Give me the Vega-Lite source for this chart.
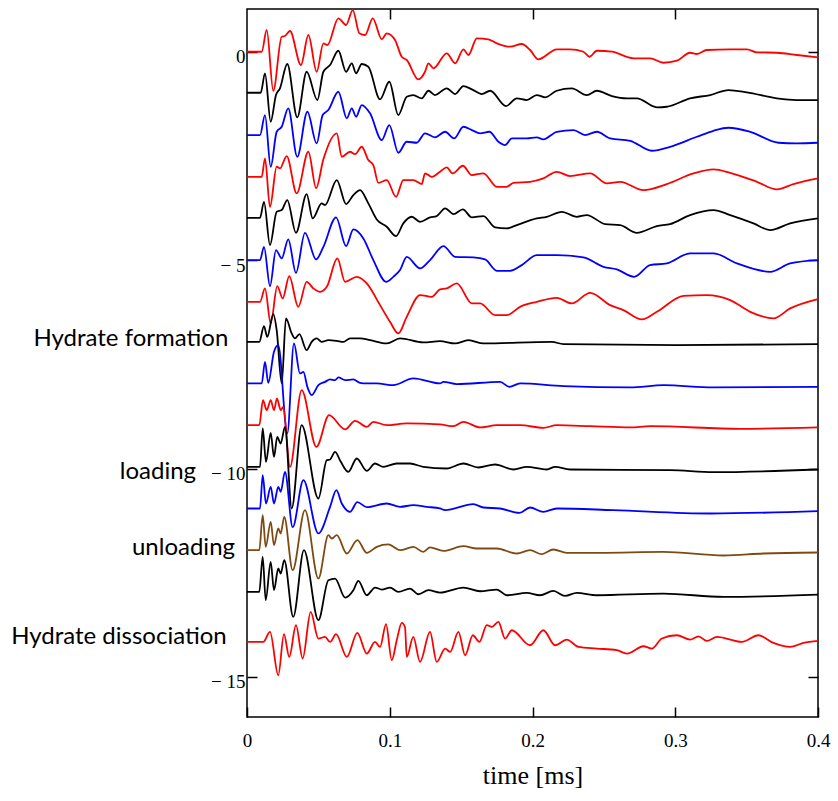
{
"$schema":"https://vega.github.io/schema/vega-lite/v6.json",
"width":571,"height":708,
"autosize":{"type":"none"},
"padding":{"left":247,"top":9,"right":20,"bottom":84},
"background":"white",
"config":{"view":{"stroke":"#000000","strokeWidth":1.5},"axis":{"grid":false,"domain":false}},
"datasets":{
"w":[
{"s":"a","t":0,"y":0},{"s":"a","t":0.0103,"y":0},{"s":"a","t":0.0138,"y":0.521},{"s":"a","t":0.0184,"y":-0.936},{"s":"a","t":0.0243,"y":0.36},{"s":"a","t":0.0266,"y":0.377},{"s":"a","t":0.0301,"y":0.497},{"s":"a","t":0.0378,"y":-0.319},{"s":"a","t":0.043,"y":0.401},{"s":"a","t":0.0488,"y":-0.48},{"s":"a","t":0.0535,"y":0.202},{"s":"a","t":0.0563,"y":0.161},{"s":"a","t":0.064,"y":0.802},{"s":"a","t":0.0694,"y":0.641},{"s":"a","t":0.0741,"y":1.0},{"s":"a","t":0.0787,"y":0.442},{"s":"a","t":0.0827,"y":0.401},{"s":"a","t":0.0881,"y":0.802},{"s":"a","t":0.0944,"y":0.298},{"s":"a","t":0.0979,"y":0.442},{"s":"a","t":0.1037,"y":0.281},{"s":"a","t":0.1084,"y":-0.12},{"s":"a","t":0.1119,"y":-0.199},{"s":"a","t":0.12,"y":-0.662},{"s":"a","t":0.1247,"y":-0.48},{"s":"a","t":0.1271,"y":-0.278},{"s":"a","t":0.1306,"y":-0.398},{"s":"a","t":0.1399,"y":-0.038},{"s":"a","t":0.1458,"y":-0.278},{"s":"a","t":0.1516,"y":0.058},{"s":"a","t":0.1551,"y":-0.079},{"s":"a","t":0.161,"y":0.322},{"s":"a","t":0.1691,"y":0.298},{"s":"a","t":0.175,"y":0.202},{"s":"a","t":0.1843,"y":0.12},{"s":"a","t":0.1925,"y":0.185},{"s":"a","t":0.1983,"y":0.041},{"s":"a","t":0.2041,"y":-0.182},{"s":"a","t":0.217,"y":0.058},{"s":"a","t":0.2263,"y":0.058},{"s":"a","t":0.2357,"y":0},{"s":"a","t":0.2399,"y":-0.12},{"s":"a","t":0.2451,"y":0.024},{"s":"a","t":0.2556,"y":0},{"s":"a","t":0.2707,"y":-0.158},{"s":"a","t":0.2824,"y":-0.158},{"s":"a","t":0.2917,"y":-0.264},{"s":"a","t":0.3011,"y":-0.216},{"s":"a","t":0.3104,"y":-0.024},{"s":"a","t":0.3151,"y":-0.055},{"s":"a","t":0.3221,"y":0.041},{"s":"a","t":0.3385,"y":0.058},{"s":"a","t":0.3502,"y":0.058},{"s":"a","t":0.3572,"y":-0.014},{"s":"a","t":0.3712,"y":-0.024},{"s":"a","t":0.3852,"y":-0.079},{"s":"a","t":0.4,"y":-0.134},
{"s":"b","t":0,"y":-0.984},{"s":"b","t":0.0096,"y":-0.984},{"s":"b","t":0.0126,"y":-0.518},{"s":"b","t":0.0166,"y":-1.68},{"s":"b","t":0.0203,"y":-1.039},{"s":"b","t":0.0231,"y":-0.878},{"s":"b","t":0.0282,"y":-0.295},{"s":"b","t":0.0352,"y":-1.574},{"s":"b","t":0.0418,"y":-0.48},{"s":"b","t":0.0493,"y":-1.159},{"s":"b","t":0.0535,"y":-0.48},{"s":"b","t":0.0582,"y":-0.319},{"s":"b","t":0.064,"y":0.024},{"s":"b","t":0.0694,"y":-0.48},{"s":"b","t":0.0734,"y":-0.278},{"s":"b","t":0.0764,"y":-0.518},{"s":"b","t":0.0804,"y":-0.295},{"s":"b","t":0.085,"y":-0.36},{"s":"b","t":0.0932,"y":-1.142},{"s":"b","t":0.0997,"y":-0.72},{"s":"b","t":0.106,"y":-1.519},{"s":"b","t":0.1119,"y":-1.08},{"s":"b","t":0.1165,"y":-1.039},{"s":"b","t":0.1224,"y":-1.118},{"s":"b","t":0.1271,"y":-0.936},{"s":"b","t":0.1317,"y":-1.039},{"s":"b","t":0.1399,"y":-0.878},{"s":"b","t":0.1458,"y":-1.015},{"s":"b","t":0.1516,"y":-0.823},{"s":"b","t":0.1575,"y":-0.902},{"s":"b","t":0.1645,"y":-1.015},{"s":"b","t":0.1703,"y":-0.936},{"s":"b","t":0.1815,"y":-1.303},{"s":"b","t":0.189,"y":-1.118},{"s":"b","t":0.196,"y":-1.159},{"s":"b","t":0.203,"y":-1.039},{"s":"b","t":0.2088,"y":-1.094},{"s":"b","t":0.217,"y":-0.936},{"s":"b","t":0.2275,"y":-0.878},{"s":"b","t":0.238,"y":-1.039},{"s":"b","t":0.2451,"y":-0.936},{"s":"b","t":0.2556,"y":-1.063},{"s":"b","t":0.2661,"y":-1.118},{"s":"b","t":0.2731,"y":-1.118},{"s":"b","t":0.2871,"y":-1.334},{"s":"b","t":0.2941,"y":-1.32},{"s":"b","t":0.3104,"y":-1.118},{"s":"b","t":0.3245,"y":-1.039},{"s":"b","t":0.3373,"y":-0.919},{"s":"b","t":0.3502,"y":-0.974},{"s":"b","t":0.3712,"y":-1.118},{"s":"b","t":0.3852,"y":-1.159},{"s":"b","t":0.4,"y":-1.159},
{"s":"c","t":0,"y":-2.0},{"s":"c","t":0.0091,"y":-2.0},{"s":"c","t":0.0126,"y":-1.519},{"s":"c","t":0.0166,"y":-2.76},{"s":"c","t":0.0208,"y":-1.92},{"s":"c","t":0.0243,"y":-1.8},{"s":"c","t":0.0289,"y":-1.358},{"s":"c","t":0.0352,"y":-2.52},{"s":"c","t":0.0423,"y":-1.44},{"s":"c","t":0.0488,"y":-2.199},{"s":"c","t":0.053,"y":-1.519},{"s":"c","t":0.057,"y":-1.399},{"s":"c","t":0.064,"y":-0.96},{"s":"c","t":0.0699,"y":-1.598},{"s":"c","t":0.0734,"y":-1.358},{"s":"c","t":0.0764,"y":-1.56},{"s":"c","t":0.0804,"y":-1.279},{"s":"c","t":0.0862,"y":-1.478},{"s":"c","t":0.0944,"y":-2.12},{"s":"c","t":0.0997,"y":-1.759},{"s":"c","t":0.106,"y":-2.424},{"s":"c","t":0.1119,"y":-2.16},{"s":"c","t":0.1189,"y":-2.184},{"s":"c","t":0.1247,"y":-1.958},{"s":"c","t":0.1317,"y":-2.054},{"s":"c","t":0.1388,"y":-1.92},{"s":"c","t":0.1451,"y":-2.078},{"s":"c","t":0.1516,"y":-1.8},{"s":"c","t":0.1575,"y":-1.879},{"s":"c","t":0.1633,"y":-1.958},{"s":"c","t":0.1698,"y":-1.92},{"s":"c","t":0.1761,"y":-2.16},{"s":"c","t":0.1808,"y":-2.239},{"s":"c","t":0.1855,"y":-2.078},{"s":"c","t":0.196,"y":-2.078},{"s":"c","t":0.203,"y":-2.054},{"s":"c","t":0.2076,"y":-2.102},{"s":"c","t":0.217,"y":-1.92},{"s":"c","t":0.2287,"y":-1.879},{"s":"c","t":0.2369,"y":-1.999},{"s":"c","t":0.2451,"y":-1.92},{"s":"c","t":0.2544,"y":-2.078},{"s":"c","t":0.2684,"y":-2.136},{"s":"c","t":0.2836,"y":-2.376},{"s":"c","t":0.2964,"y":-2.28},{"s":"c","t":0.3151,"y":-2.04},{"s":"c","t":0.3268,"y":-1.896},{"s":"c","t":0.3373,"y":-1.824},{"s":"c","t":0.3525,"y":-1.92},{"s":"c","t":0.3723,"y":-2.184},{"s":"c","t":0.3852,"y":-2.198},{"s":"c","t":0.4,"y":-2.184},
{"s":"d","t":0,"y":-3.0},{"s":"d","t":0.0103,"y":-3.0},{"s":"d","t":0.0126,"y":-2.558},{"s":"d","t":0.0161,"y":-3.72},{"s":"d","t":0.0208,"y":-2.76},{"s":"d","t":0.0231,"y":-2.799},{"s":"d","t":0.0278,"y":-2.503},{"s":"d","t":0.0348,"y":-3.398},{"s":"d","t":0.043,"y":-2.4},{"s":"d","t":0.0484,"y":-3.271},{"s":"d","t":0.0535,"y":-2.582},{"s":"d","t":0.0629,"y":-1.958},{"s":"d","t":0.0664,"y":-2.52},{"s":"d","t":0.0722,"y":-2.4},{"s":"d","t":0.0757,"y":-2.455},{"s":"d","t":0.0804,"y":-2.28},{"s":"d","t":0.085,"y":-2.599},{"s":"d","t":0.0885,"y":-2.719},{"s":"d","t":0.092,"y":-3.144},{"s":"d","t":0.0979,"y":-3.08},{"s":"d","t":0.1044,"y":-3.48},{"s":"d","t":0.1095,"y":-3.08},{"s":"d","t":0.1165,"y":-3.08},{"s":"d","t":0.1224,"y":-3.175},{"s":"d","t":0.1247,"y":-2.919},{"s":"d","t":0.1294,"y":-3.0},{"s":"d","t":0.1352,"y":-2.88},{"s":"d","t":0.1399,"y":-2.774},{"s":"d","t":0.1441,"y":-2.919},{"s":"d","t":0.1512,"y":-2.736},{"s":"d","t":0.1575,"y":-2.959},{"s":"d","t":0.1656,"y":-2.919},{"s":"d","t":0.175,"y":-3.24},{"s":"d","t":0.182,"y":-3.24},{"s":"d","t":0.1866,"y":-3.144},{"s":"d","t":0.1983,"y":-3.12},{"s":"d","t":0.2076,"y":-3.039},{"s":"d","t":0.217,"y":-2.88},{"s":"d","t":0.2263,"y":-2.983},{"s":"d","t":0.2404,"y":-2.919},{"s":"d","t":0.2521,"y":-3.158},{"s":"d","t":0.2614,"y":-3.12},{"s":"d","t":0.2777,"y":-3.319},{"s":"d","t":0.2941,"y":-3.175},{"s":"d","t":0.3128,"y":-2.919},{"s":"d","t":0.3268,"y":-2.822},{"s":"d","t":0.3385,"y":-2.904},{"s":"d","t":0.3572,"y":-3.12},{"s":"d","t":0.3712,"y":-3.302},{"s":"d","t":0.3828,"y":-3.175},{"s":"d","t":0.4,"y":-3.039},
{"s":"e","t":0,"y":-3.984},{"s":"e","t":0.0091,"y":-3.984},{"s":"e","t":0.0119,"y":-3.6},{"s":"e","t":0.0161,"y":-4.639},{"s":"e","t":0.0208,"y":-3.84},{"s":"e","t":0.0243,"y":-3.799},{"s":"e","t":0.0282,"y":-3.559},{"s":"e","t":0.0343,"y":-4.344},{"s":"e","t":0.0418,"y":-3.415},{"s":"e","t":0.046,"y":-3.999},{"s":"e","t":0.0523,"y":-3.638},{"s":"e","t":0.0547,"y":-3.679},{"s":"e","t":0.0629,"y":-3.079},{"s":"e","t":0.0694,"y":-3.655},{"s":"e","t":0.0745,"y":-3.439},{"s":"e","t":0.0792,"y":-3.319},{"s":"e","t":0.085,"y":-3.638},{"s":"e","t":0.0909,"y":-4.023},{"s":"e","t":0.0979,"y":-4.2},{"s":"e","t":0.1044,"y":-4.423},{"s":"e","t":0.1095,"y":-4.118},{"s":"e","t":0.1154,"y":-3.959},{"s":"e","t":0.1212,"y":-4.08},{"s":"e","t":0.1282,"y":-3.974},{"s":"e","t":0.1329,"y":-3.943},{"s":"e","t":0.1388,"y":-3.758},{"s":"e","t":0.1446,"y":-3.895},{"s":"e","t":0.1512,"y":-3.782},{"s":"e","t":0.1575,"y":-3.974},{"s":"e","t":0.1656,"y":-3.943},{"s":"e","t":0.1738,"y":-4.214},{"s":"e","t":0.182,"y":-4.238},{"s":"e","t":0.189,"y":-4.159},{"s":"e","t":0.203,"y":-3.998},{"s":"e","t":0.21,"y":-3.96},{"s":"e","t":0.2205,"y":-3.84},{"s":"e","t":0.231,"y":-3.96},{"s":"e","t":0.238,"y":-3.919},{"s":"e","t":0.2509,"y":-4.135},{"s":"e","t":0.2614,"y":-4.159},{"s":"e","t":0.2731,"y":-4.344},{"s":"e","t":0.2871,"y":-4.183},{"s":"e","t":0.2964,"y":-4.135},{"s":"e","t":0.3104,"y":-3.919},{"s":"e","t":0.3268,"y":-3.799},{"s":"e","t":0.3385,"y":-3.919},{"s":"e","t":0.3548,"y":-4.118},{"s":"e","t":0.3665,"y":-4.279},{"s":"e","t":0.3805,"y":-4.118},{"s":"e","t":0.4,"y":-3.998},
{"s":"f","t":0,"y":-5.0},{"s":"f","t":0.0091,"y":-5.0},{"s":"f","t":0.0119,"y":-4.68},{"s":"f","t":0.0161,"y":-5.623},{"s":"f","t":0.0203,"y":-4.759},{"s":"f","t":0.0243,"y":-4.958},{"s":"f","t":0.0289,"y":-4.502},{"s":"f","t":0.0343,"y":-5.304},{"s":"f","t":0.0406,"y":-4.344},{"s":"f","t":0.0484,"y":-4.982},{"s":"f","t":0.0535,"y":-4.68},{"s":"f","t":0.0624,"y":-3.974},{"s":"f","t":0.0694,"y":-4.663},{"s":"f","t":0.0745,"y":-4.262},{"s":"f","t":0.0815,"y":-4.478},{"s":"f","t":0.0885,"y":-4.999},{"s":"f","t":0.0974,"y":-5.52},{"s":"f","t":0.1025,"y":-5.4},{"s":"f","t":0.1072,"y":-5.239},{"s":"f","t":0.1119,"y":-4.92},{"s":"f","t":0.1212,"y":-5.198},{"s":"f","t":0.1282,"y":-4.999},{"s":"f","t":0.1376,"y":-4.663},{"s":"f","t":0.1458,"y":-4.92},{"s":"f","t":0.1586,"y":-4.934},{"s":"f","t":0.1668,"y":-4.982},{"s":"f","t":0.175,"y":-5.256},{"s":"f","t":0.1843,"y":-5.256},{"s":"f","t":0.1925,"y":-5.119},{"s":"f","t":0.203,"y":-4.879},{"s":"f","t":0.217,"y":-4.879},{"s":"f","t":0.2357,"y":-4.934},{"s":"f","t":0.2497,"y":-5.16},{"s":"f","t":0.2591,"y":-5.222},{"s":"f","t":0.2712,"y":-5.4},{"s":"f","t":0.2824,"y":-5.119},{"s":"f","t":0.2941,"y":-5.078},{"s":"f","t":0.3104,"y":-4.838},{"s":"f","t":0.3268,"y":-4.838},{"s":"f","t":0.3432,"y":-5.078},{"s":"f","t":0.3665,"y":-5.28},{"s":"f","t":0.3805,"y":-5.078},{"s":"f","t":0.4,"y":-4.999},
{"s":"g","t":0,"y":-6.0},{"s":"g","t":0.0091,"y":-6.0},{"s":"g","t":0.0126,"y":-5.678},{"s":"g","t":0.0166,"y":-6.518},{"s":"g","t":0.0212,"y":-5.623},{"s":"g","t":0.025,"y":-5.918},{"s":"g","t":0.0296,"y":-5.383},{"s":"g","t":0.0359,"y":-6.12},{"s":"g","t":0.0418,"y":-5.52},{"s":"g","t":0.0465,"y":-5.678},{"s":"g","t":0.0512,"y":-5.76},{"s":"g","t":0.0559,"y":-5.64},{"s":"g","t":0.0633,"y":-4.959},{"s":"g","t":0.0687,"y":-5.52},{"s":"g","t":0.0769,"y":-5.4},{"s":"g","t":0.0839,"y":-5.558},{"s":"g","t":0.0932,"y":-6.079},{"s":"g","t":0.1002,"y":-6.48},{"s":"g","t":0.106,"y":-6.758},{"s":"g","t":0.1119,"y":-6.36},{"s":"g","t":0.1212,"y":-5.839},{"s":"g","t":0.1294,"y":-5.88},{"s":"g","t":0.1352,"y":-5.702},{"s":"g","t":0.1399,"y":-5.678},{"s":"g","t":0.147,"y":-5.558},{"s":"g","t":0.1575,"y":-6.038},{"s":"g","t":0.1633,"y":-6.038},{"s":"g","t":0.1738,"y":-6.319},{"s":"g","t":0.182,"y":-6.319},{"s":"g","t":0.1913,"y":-6.12},{"s":"g","t":0.203,"y":-6.0},{"s":"g","t":0.217,"y":-5.904},{"s":"g","t":0.2275,"y":-6.038},{"s":"g","t":0.2404,"y":-5.784},{"s":"g","t":0.2544,"y":-6.079},{"s":"g","t":0.2637,"y":-6.199},{"s":"g","t":0.2766,"y":-6.422},{"s":"g","t":0.2871,"y":-6.24},{"s":"g","t":0.3058,"y":-5.856},{"s":"g","t":0.3221,"y":-5.839},{"s":"g","t":0.3385,"y":-5.959},{"s":"g","t":0.3525,"y":-6.24},{"s":"g","t":0.3688,"y":-6.398},{"s":"g","t":0.3805,"y":-6.158},{"s":"g","t":0.4,"y":-5.935},
{"s":"h","t":0,"y":-6.96},{"s":"h","t":0.0086,"y":-6.96},{"s":"h","t":0.0119,"y":-6.583},{"s":"h","t":0.0142,"y":-6.84},{"s":"h","t":0.0184,"y":-6.295},{"s":"h","t":0.0208,"y":-6.679},{"s":"h","t":0.0243,"y":-7.958},{"s":"h","t":0.0273,"y":-6.398},{"s":"h","t":0.0313,"y":-6.758},{"s":"h","t":0.0336,"y":-6.878},{"s":"h","t":0.0367,"y":-6.775},{"s":"h","t":0.0418,"y":-7.159},{"s":"h","t":0.0453,"y":-6.96},{"s":"h","t":0.0488,"y":-6.878},{"s":"h","t":0.0523,"y":-6.96},{"s":"h","t":0.057,"y":-6.919},{"s":"h","t":0.0629,"y":-6.936},{"s":"h","t":0.0675,"y":-6.96},{"s":"h","t":0.0722,"y":-6.878},{"s":"h","t":0.0792,"y":-6.878},{"s":"h","t":0.0862,"y":-6.919},{"s":"h","t":0.0979,"y":-6.998},{"s":"h","t":0.1072,"y":-6.878},{"s":"h","t":0.1235,"y":-6.974},{"s":"h","t":0.1352,"y":-6.943},{"s":"h","t":0.1458,"y":-6.998},{"s":"h","t":0.1551,"y":-6.919},{"s":"h","t":0.1656,"y":-6.998},{"s":"h","t":0.2135,"y":-6.96},{"s":"h","t":0.2217,"y":-7.015},{"s":"h","t":0.3011,"y":-7.039},{"s":"h","t":0.4,"y":-7.015},
{"s":"i","t":0,"y":-7.958},{"s":"i","t":0.0103,"y":-7.958},{"s":"i","t":0.0126,"y":-7.44},{"s":"i","t":0.0149,"y":-7.944},{"s":"i","t":0.0189,"y":-7.199},{"s":"i","t":0.0219,"y":-7.039},{"s":"i","t":0.0282,"y":-9.159},{"s":"i","t":0.0329,"y":-6.998},{"s":"i","t":0.0371,"y":-7.718},{"s":"i","t":0.0395,"y":-7.68},{"s":"i","t":0.0423,"y":-8.04},{"s":"i","t":0.0453,"y":-8.239},{"s":"i","t":0.05,"y":-7.999},{"s":"i","t":0.0547,"y":-7.92},{"s":"i","t":0.0582,"y":-7.862},{"s":"i","t":0.0617,"y":-7.879},{"s":"i","t":0.064,"y":-7.814},{"s":"i","t":0.0687,"y":-7.879},{"s":"i","t":0.0745,"y":-7.862},{"s":"i","t":0.0792,"y":-7.943},{"s":"i","t":0.0839,"y":-7.958},{"s":"i","t":0.0909,"y":-7.958},{"s":"i","t":0.1025,"y":-7.999},{"s":"i","t":0.1165,"y":-7.838},{"s":"i","t":0.1352,"y":-7.958},{"s":"i","t":0.1376,"y":-7.919},{"s":"i","t":0.147,"y":-7.975},{"s":"i","t":0.1773,"y":-7.92},{"s":"i","t":0.1838,"y":-8.04},{"s":"i","t":0.1913,"y":-7.958},{"s":"i","t":0.2217,"y":-8.022},{"s":"i","t":0.2684,"y":-8.054},{"s":"i","t":0.2917,"y":-7.999},{"s":"i","t":0.3268,"y":-8.054},{"s":"i","t":0.4,"y":-8.04},
{"s":"j","t":0,"y":-8.959},{"s":"j","t":0.0086,"y":-8.959},{"s":"j","t":0.0112,"y":-8.359},{"s":"j","t":0.0138,"y":-8.599},{"s":"j","t":0.0166,"y":-8.359},{"s":"j","t":0.0189,"y":-8.599},{"s":"j","t":0.021,"y":-8.318},{"s":"j","t":0.0236,"y":-8.599},{"s":"j","t":0.0254,"y":-8.519},{"s":"j","t":0.0301,"y":-9.96},{"s":"j","t":0.0383,"y":-8.119},{"s":"j","t":0.0486,"y":-9.48},{"s":"j","t":0.0575,"y":-8.719},{"s":"j","t":0.0687,"y":-9.062},{"s":"j","t":0.0757,"y":-8.855},{"s":"j","t":0.0839,"y":-8.999},{"s":"j","t":0.0885,"y":-8.879},{"s":"j","t":0.0979,"y":-8.959},{"s":"j","t":0.1119,"y":-8.918},{"s":"j","t":0.1352,"y":-8.942},{"s":"j","t":0.1446,"y":-8.983},{"s":"j","t":0.1516,"y":-8.879},{"s":"j","t":0.1633,"y":-9.014},{"s":"j","t":0.175,"y":-8.959},{"s":"j","t":0.1913,"y":-8.959},{"s":"j","t":0.2076,"y":-9.023},{"s":"j","t":0.217,"y":-8.959},{"s":"j","t":0.2404,"y":-8.983},{"s":"j","t":0.2684,"y":-9.014},{"s":"j","t":0.2824,"y":-8.983},{"s":"j","t":0.3455,"y":-9.047},{"s":"j","t":0.4,"y":-9.014},
{"s":"k","t":0,"y":-9.959},{"s":"k","t":0.0091,"y":-9.959},{"s":"k","t":0.011,"y":-9.038},{"s":"k","t":0.0133,"y":-9.839},{"s":"k","t":0.0166,"y":-9.143},{"s":"k","t":0.0189,"y":-9.719},{"s":"k","t":0.0212,"y":-9.239},{"s":"k","t":0.0236,"y":-9.399},{"s":"k","t":0.0266,"y":-8.999},{"s":"k","t":0.0313,"y":-10.958},{"s":"k","t":0.0383,"y":-8.959},{"s":"k","t":0.05,"y":-10.718},{"s":"k","t":0.0559,"y":-9.799},{"s":"k","t":0.0582,"y":-9.782},{"s":"k","t":0.0617,"y":-9.599},{"s":"k","t":0.0657,"y":-9.839},{"s":"k","t":0.071,"y":-10.079},{"s":"k","t":0.0769,"y":-9.758},{"s":"k","t":0.0839,"y":-10.055},{"s":"k","t":0.0897,"y":-9.879},{"s":"k","t":0.0955,"y":-9.959},{"s":"k","t":0.1049,"y":-9.879},{"s":"k","t":0.1142,"y":-9.879},{"s":"k","t":0.1235,"y":-9.959},{"s":"k","t":0.1399,"y":-9.998},{"s":"k","t":0.1516,"y":-9.879},{"s":"k","t":0.1621,"y":-9.974},{"s":"k","t":0.1738,"y":-9.902},{"s":"k","t":0.1866,"y":-10.022},{"s":"k","t":0.196,"y":-9.959},{"s":"k","t":0.21,"y":-10.022},{"s":"k","t":0.2158,"y":-9.959},{"s":"k","t":0.2263,"y":-10.022},{"s":"k","t":0.2964,"y":-10.038},{"s":"k","t":0.3268,"y":-10.086},{"s":"k","t":0.4,"y":-10.022},
{"s":"l","t":0,"y":-10.958},{"s":"l","t":0.0091,"y":-10.958},{"s":"l","t":0.011,"y":-10.158},{"s":"l","t":0.0133,"y":-10.838},{"s":"l","t":0.0166,"y":-10.438},{"s":"l","t":0.0189,"y":-10.838},{"s":"l","t":0.0219,"y":-10.438},{"s":"l","t":0.0236,"y":-10.558},{"s":"l","t":0.0266,"y":-10.078},{"s":"l","t":0.032,"y":-11.406},{"s":"l","t":0.0395,"y":-10.279},{"s":"l","t":0.05,"y":-11.557},{"s":"l","t":0.0582,"y":-10.918},{"s":"l","t":0.0626,"y":-10.518},{"s":"l","t":0.0664,"y":-10.838},{"s":"l","t":0.0722,"y":-11.038},{"s":"l","t":0.0773,"y":-10.806},{"s":"l","t":0.0839,"y":-10.926},{"s":"l","t":0.0979,"y":-10.838},{"s":"l","t":0.1072,"y":-10.918},{"s":"l","t":0.1165,"y":-10.878},{"s":"l","t":0.1259,"y":-10.918},{"s":"l","t":0.1352,"y":-10.958},{"s":"l","t":0.1388,"y":-10.998},{"s":"l","t":0.1586,"y":-10.854},{"s":"l","t":0.1656,"y":-10.934},{"s":"l","t":0.1773,"y":-10.958},{"s":"l","t":0.1908,"y":-11.063},{"s":"l","t":0.1983,"y":-10.934},{"s":"l","t":0.2076,"y":-11.039},{"s":"l","t":0.217,"y":-10.958},{"s":"l","t":0.2567,"y":-10.998},{"s":"l","t":0.3245,"y":-11.078},{"s":"l","t":0.4,"y":-11.022},
{"s":"m","t":0,"y":-11.958},{"s":"m","t":0.0086,"y":-11.958},{"s":"m","t":0.011,"y":-11.118},{"s":"m","t":0.0131,"y":-11.879},{"s":"m","t":0.0166,"y":-11.279},{"s":"m","t":0.0189,"y":-11.838},{"s":"m","t":0.0219,"y":-11.438},{"s":"m","t":0.0236,"y":-11.558},{"s":"m","t":0.0261,"y":-11.159},{"s":"m","t":0.032,"y":-12.438},{"s":"m","t":0.0406,"y":-10.999},{"s":"m","t":0.05,"y":-12.638},{"s":"m","t":0.057,"y":-11.599},{"s":"m","t":0.0594,"y":-11.678},{"s":"m","t":0.0629,"y":-11.599},{"s":"m","t":0.0699,"y":-12.038},{"s":"m","t":0.0773,"y":-11.718},{"s":"m","t":0.0839,"y":-12.022},{"s":"m","t":0.0909,"y":-11.879},{"s":"m","t":0.099,"y":-11.821},{"s":"m","t":0.1072,"y":-11.958},{"s":"m","t":0.1165,"y":-11.879},{"s":"m","t":0.1235,"y":-11.999},{"s":"m","t":0.1282,"y":-11.893},{"s":"m","t":0.1376,"y":-11.975},{"s":"m","t":0.1516,"y":-11.862},{"s":"m","t":0.161,"y":-11.918},{"s":"m","t":0.175,"y":-11.918},{"s":"m","t":0.189,"y":-12.038},{"s":"m","t":0.1983,"y":-11.958},{"s":"m","t":0.2065,"y":-12.054},{"s":"m","t":0.2146,"y":-11.942},{"s":"m","t":0.224,"y":-12.022},{"s":"m","t":0.2474,"y":-12.022},{"s":"m","t":0.2917,"y":-11.999},{"s":"m","t":0.3338,"y":-12.086},{"s":"m","t":0.3618,"y":-12.038},{"s":"m","t":0.4,"y":-12.014},
{"s":"n","t":0,"y":-12.959},{"s":"n","t":0.0086,"y":-12.959},{"s":"n","t":0.011,"y":-12.119},{"s":"n","t":0.0131,"y":-13.158},{"s":"n","t":0.0166,"y":-12.239},{"s":"n","t":0.0189,"y":-12.918},{"s":"n","t":0.0219,"y":-12.398},{"s":"n","t":0.0236,"y":-12.518},{"s":"n","t":0.0261,"y":-12.199},{"s":"n","t":0.0324,"y":-13.559},{"s":"n","t":0.0399,"y":-11.959},{"s":"n","t":0.05,"y":-13.638},{"s":"n","t":0.057,"y":-12.678},{"s":"n","t":0.0617,"y":-12.638},{"s":"n","t":0.0687,"y":-13.094},{"s":"n","t":0.0745,"y":-12.918},{"s":"n","t":0.078,"y":-12.695},{"s":"n","t":0.0839,"y":-13.039},{"s":"n","t":0.0897,"y":-12.854},{"s":"n","t":0.0944,"y":-12.902},{"s":"n","t":0.1002,"y":-12.854},{"s":"n","t":0.106,"y":-12.959},{"s":"n","t":0.1142,"y":-12.878},{"s":"n","t":0.12,"y":-13.015},{"s":"n","t":0.1271,"y":-12.918},{"s":"n","t":0.1352,"y":-12.974},{"s":"n","t":0.1516,"y":-12.854},{"s":"n","t":0.1633,"y":-12.943},{"s":"n","t":0.175,"y":-12.902},{"s":"n","t":0.182,"y":-13.039},{"s":"n","t":0.196,"y":-12.983},{"s":"n","t":0.2053,"y":-13.039},{"s":"n","t":0.2146,"y":-12.935},{"s":"n","t":0.2228,"y":-13.055},{"s":"n","t":0.231,"y":-12.983},{"s":"n","t":0.2451,"y":-13.039},{"s":"n","t":0.2917,"y":-12.999},{"s":"n","t":0.3338,"y":-13.079},{"s":"n","t":0.4,"y":-13.022},
{"s":"o","t":0,"y":-14.159},{"s":"o","t":0.0114,"y":-14.159},{"s":"o","t":0.0161,"y":-13.919},{"s":"o","t":0.0219,"y":-14.958},{"s":"o","t":0.0259,"y":-13.974},{"s":"o","t":0.0296,"y":-14.519},{"s":"o","t":0.0343,"y":-13.758},{"s":"o","t":0.039,"y":-14.557},{"s":"o","t":0.0446,"y":-13.439},{"s":"o","t":0.05,"y":-14.078},{"s":"o","t":0.0547,"y":-14.039},{"s":"o","t":0.0582,"y":-14.159},{"s":"o","t":0.0624,"y":-13.974},{"s":"o","t":0.0699,"y":-14.519},{"s":"o","t":0.0773,"y":-13.943},{"s":"o","t":0.0839,"y":-14.438},{"s":"o","t":0.0897,"y":-14.159},{"s":"o","t":0.0932,"y":-14.279},{"s":"o","t":0.0974,"y":-13.734},{"s":"o","t":0.1014,"y":-14.599},{"s":"o","t":0.1049,"y":-14.119},{"s":"o","t":0.1084,"y":-13.703},{"s":"o","t":0.1107,"y":-13.806},{"s":"o","t":0.1119,"y":-14.519},{"s":"o","t":0.1165,"y":-14.039},{"s":"o","t":0.1212,"y":-14.639},{"s":"o","t":0.1282,"y":-13.919},{"s":"o","t":0.1329,"y":-14.639},{"s":"o","t":0.1388,"y":-14.318},{"s":"o","t":0.1423,"y":-14.399},{"s":"o","t":0.1481,"y":-13.919},{"s":"o","t":0.1528,"y":-14.478},{"s":"o","t":0.1582,"y":-13.999},{"s":"o","t":0.1628,"y":-14.159},{"s":"o","t":0.168,"y":-13.758},{"s":"o","t":0.1715,"y":-13.798},{"s":"o","t":0.1761,"y":-13.678},{"s":"o","t":0.1808,"y":-14.078},{"s":"o","t":0.1855,"y":-13.879},{"s":"o","t":0.1983,"y":-14.239},{"s":"o","t":0.2076,"y":-13.879},{"s":"o","t":0.2158,"y":-14.239},{"s":"o","t":0.224,"y":-14.103},{"s":"o","t":0.2322,"y":-14.279},{"s":"o","t":0.2451,"y":-14.318},{"s":"o","t":0.2591,"y":-14.358},{"s":"o","t":0.2661,"y":-14.438},{"s":"o","t":0.2777,"y":-14.263},{"s":"o","t":0.2836,"y":-14.318},{"s":"o","t":0.2906,"y":-14.078},{"s":"o","t":0.3011,"y":-13.999},{"s":"o","t":0.3104,"y":-14.103},{"s":"o","t":0.3163,"y":-14.024},{"s":"o","t":0.3221,"y":-14.135},{"s":"o","t":0.3292,"y":-14.039},{"s":"o","t":0.3467,"y":-14.159},{"s":"o","t":0.3583,"y":-13.999},{"s":"o","t":0.3688,"y":-14.183},{"s":"o","t":0.3805,"y":-14.279},{"s":"o","t":0.3898,"y":-14.183},{"s":"o","t":0.4,"y":-14.135}
],
"lab":[
{"label":"Hydrate formation","t":-0.0131,"y":-7.063},
{"label":"loading","t":-0.0357,"y":-10.255},
{"label":"unloading","t":-0.0084,"y":-12.062},
{"label":"Hydrate dissociation","t":-0.0142,"y":-14.197}
]
},
"layer":[
{"data":{"name":"w"},
 "mark":{"type":"line","strokeWidth":1.8,"interpolate":"monotone"},
 "encoding":{
  "x":{"field":"t","type":"quantitative","scale":{"domain":[0,0.4],"nice":false,"zero":false},
       "axis":{"orient":"bottom","values":[0,0.1,0.2,0.3,0.4],"labelExpr":"datum.value == 0 ? '0' : format(datum.value, '.1f')","tickSize":-10,"tickColor":"#000000","tickWidth":1.5,"labelFont":"Liberation Serif","labelFontSize":19,"labelColor":"#000000","labelPadding":24,"labelFlush":false,"title":"time [ms]","titleFont":"Liberation Serif","titleFontSize":26,"titleFontWeight":"normal","titleColor":"#000000","titlePadding":12}},
  "y":{"field":"y","type":"quantitative","scale":{"domain":[-15.96,1.025],"nice":false,"zero":false},
       "axis":{"orient":"left","values":[0,-5,-10,-15],"labelExpr":"datum.value == 0 ? '0' : '\u2212 ' + format(-datum.value, 'd')","tickSize":-10,"tickColor":"#000000","tickWidth":1.5,"labelFont":"Liberation Serif","labelFontSize":19,"labelColor":"#000000","labelPadding":12,"labelOffset":5,"labelFlush":false,"title":null}},
  "color":{"field":"s","type":"nominal","legend":null,"scale":{"domain":["a","b","c","d","e","f","g","h","i","j","k","l","m","n","o"],"range":["#ff0000","#000000","#0000ff","#ff0000","#000000","#0000ff","#ff0000","#000000","#0000ff","#ff0000","#000000","#0000ff","#7f4a12","#000000","#ff0000"]}},
  "detail":{"field":"s"}
 }},
{"data":{"name":"lab"},
 "mark":{"type":"text","font":"Lato","fontSize":24,"align":"right","baseline":"alphabetic","color":"#000000"},
 "encoding":{
  "x":{"field":"t","type":"quantitative","scale":{"domain":[0,0.4],"nice":false,"zero":false},
       "axis":{"orient":"top","values":[0.1,0.2,0.3],"labels":false,"tickSize":-10,"tickColor":"#000000","tickWidth":1.5,"title":null}},
  "y":{"field":"y","type":"quantitative","scale":{"domain":[-15.96,1.025],"nice":false,"zero":false},
       "axis":{"orient":"right","values":[0,-5,-10,-15],"labels":false,"tickSize":-10,"tickColor":"#000000","tickWidth":1.5,"title":null}},
  "text":{"field":"label"}
 }}
],
"resolve":{"axis":{"x":"independent","y":"independent"}}
}
